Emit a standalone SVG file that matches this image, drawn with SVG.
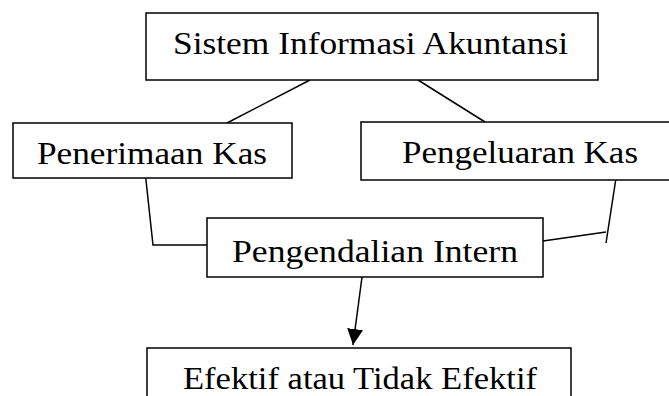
<svg xmlns="http://www.w3.org/2000/svg" width="669" height="396" viewBox="0 0 669 396">
<defs>
<style>
.box{fill:#fff;stroke:#000;stroke-width:1.5}
.lbl{font-family:"Liberation Serif","DejaVu Serif",serif;font-size:32px;fill:#000}
.ln{fill:none;stroke:#000;stroke-width:1.5}
</style>
<marker id="arr" markerWidth="16" markerHeight="16" viewBox="0 0 16 16" refX="16" refY="8" orient="auto" markerUnits="userSpaceOnUse">
<path d="M0,0 L16,8 L0,16 Z" fill="#000"/>
</marker>
</defs>
<rect width="669" height="396" fill="#fff"/>
<g id="connectors">
<line class="ln" x1="310" y1="80" x2="227" y2="123"/>
<line class="ln" x1="418" y1="80" x2="485" y2="122"/>
<polyline class="ln" points="145,171 153,245 207,245"/>
<line class="ln" x1="616" y1="178" x2="606" y2="243"/>
<line class="ln" x1="543" y1="241" x2="606" y2="232"/>
<line class="ln" x1="362" y1="277" x2="353" y2="345" marker-end="url(#arr)"/>
</g>
<g id="sia">
<rect class="box" x="146" y="13" width="452" height="67"/>
<text class="lbl" x="173" y="54" textLength="395" lengthAdjust="spacingAndGlyphs">Sistem Informasi Akuntansi</text>
</g>
<g id="penerimaan">
<rect class="box" x="13" y="123" width="279" height="55"/>
<text class="lbl" x="37" y="164" textLength="230" lengthAdjust="spacingAndGlyphs">Penerimaan Kas</text>
</g>
<g id="pengeluaran">
<rect class="box" x="361" y="122" width="320" height="58"/>
<text class="lbl" x="402" y="163" textLength="236" lengthAdjust="spacingAndGlyphs">Pengeluaran Kas</text>
</g>
<g id="pengendalian">
<rect class="box" x="207" y="218" width="336" height="59"/>
<text class="lbl" x="232" y="262" textLength="286" lengthAdjust="spacingAndGlyphs">Pengendalian Intern</text>
</g>
<g id="efektif">
<rect class="box" x="147" y="348" width="424" height="60"/>
<text class="lbl" x="183" y="389" textLength="354" lengthAdjust="spacingAndGlyphs">Efektif atau Tidak Efektif</text>
</g>
</svg>
